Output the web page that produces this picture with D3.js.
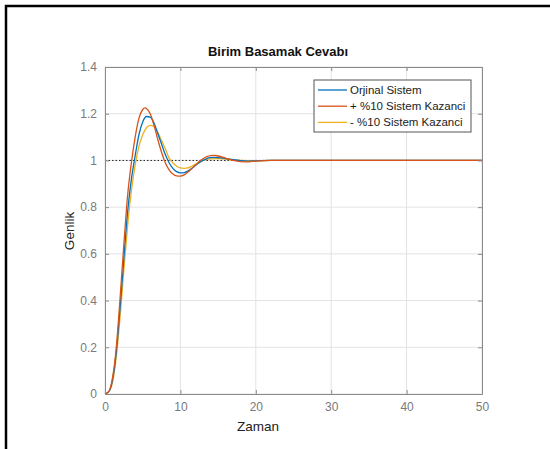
<!DOCTYPE html>
<html>
<head>
<meta charset="utf-8">
<script src="https://cdn.jsdelivr.net/npm/d3@7"></script>
<style>
  body { margin: 0; background: #fff; }
  svg { display: block; font-family: "Liberation Sans", Arial, sans-serif; }
</style>
</head>
<body>
<svg id="chart" width="550" height="449"></svg>
<script>
// Step response data (time, amplitude)
const timeOrig = [0, 0.5, 1, 1.5, 2, 2.5, 3, 3.5, 4, 4.5, 5, 5.5, 6, 6.5, 7, 7.5, 8, 8.5, 9, 9.5, 10, 10.5, 11, 11.5, 12, 12.5, 13, 13.5, 14, 14.5, 15, 16, 17, 18, 19, 20, 22, 25, 30, 40, 50];
const ampOrig  = [0, 0.01, 0.06, 0.18, 0.37, 0.58, 0.78, 0.92, 1.02, 1.11, 1.165, 1.188, 1.185, 1.16, 1.115, 1.07, 1.025, 0.99, 0.966, 0.952, 0.947, 0.948, 0.955, 0.965, 0.978, 0.99, 1.0, 1.008, 1.012, 1.013, 1.012, 1.008, 1.003, 0.999, 0.997, 0.998, 1.0, 1.0, 1.0, 1.0, 1.0];

const timePlus = [0, 0.5, 1, 1.5, 2, 2.5, 3, 3.5, 4, 4.5, 5, 5.3, 5.5, 6, 6.5, 7, 7.5, 8, 8.5, 9, 9.5, 10, 10.5, 11, 11.5, 12, 12.5, 13, 13.5, 14, 14.5, 15, 16, 17, 18, 19, 20, 22, 25, 30, 40, 50];
const ampPlus  = [0, 0.01, 0.07, 0.2, 0.41, 0.64, 0.85, 0.99, 1.1, 1.18, 1.218, 1.225, 1.222, 1.2, 1.15, 1.09, 1.035, 0.99, 0.96, 0.942, 0.934, 0.933, 0.938, 0.95, 0.965, 0.98, 0.995, 1.007, 1.016, 1.021, 1.022, 1.019, 1.01, 1.0, 0.995, 0.994, 0.997, 1.0, 1.0, 1.0, 1.0, 1.0];

const timeMinus = [0, 0.5, 1, 1.5, 2, 2.5, 3, 3.5, 4, 4.5, 5, 5.5, 6, 6.5, 7, 7.5, 8, 8.5, 9, 9.5, 10, 10.5, 11, 11.5, 12, 12.5, 13, 14, 15, 16, 17, 18, 20, 22, 25, 30, 40, 50];
const ampMinus  = [0, 0.01, 0.05, 0.16, 0.33, 0.53, 0.72, 0.87, 0.98, 1.06, 1.11, 1.14, 1.15, 1.145, 1.12, 1.085, 1.05, 1.01, 0.99, 0.975, 0.968, 0.966, 0.968, 0.975, 0.984, 0.993, 1.0, 1.007, 1.008, 1.006, 1.002, 1.0, 0.999, 1.0, 1.0, 1.0, 1.0, 1.0];

const seriesNames = ["Orjinal Sistem", "+ %10 Sistem Kazanci", "- %10 Sistem Kazanci"];
const seriesColors = ["#0072BD", "#D95319", "#EDB120"];

const xTicks = [0, 10, 20, 30, 40, 50];
const yTicks = [0, 0.2, 0.4, 0.6, 0.8, 1, 1.2, 1.4];
const refLevel = [{ t: 0, v: 1 }, { t: 50, v: 1 }];

const svg = d3.select("#chart");

// outer frame (only top and left edges visible)
svg.append("path")
  .attr("d", "M6,449 L6,6 L550,6")
  .attr("fill", "none")
  .attr("stroke", "#000")
  .attr("stroke-width", 2.5);

const x = d3.scaleLinear().domain([0, 50]).range([105, 482]);
const y = d3.scaleLinear().domain([0, 1.4]).range([394, 67]);

// grid
const grid = svg.append("g").attr("stroke", "#e3e3e3").attr("stroke-width", 1);
xTicks.forEach(t => {
  grid.append("line").attr("x1", x(t)).attr("x2", x(t)).attr("y1", y(0)).attr("y2", y(1.4));
});
yTicks.forEach(t => {
  grid.append("line").attr("x1", x(0)).attr("x2", x(50)).attr("y1", y(t)).attr("y2", y(t));
});

// curves
const line = d3.line().x(d => x(d.t)).y(d => y(d.v));
const series = [
  timeOrig.map((t, i) => ({ t, v: ampOrig[i] })),
  timePlus.map((t, i) => ({ t, v: ampPlus[i] })),
  timeMinus.map((t, i) => ({ t, v: ampMinus[i] }))
];

// reference dotted line
svg.append("path")
  .datum(refLevel)
  .attr("d", line)
  .attr("fill", "none")
  .attr("stroke", "#222")
  .attr("stroke-width", 1)
  .attr("stroke-dasharray", "1.5,2");

const curveLine = d3.line().x(d => x(d.t)).y(d => y(d.v)).curve(d3.curveMonotoneX);
[2, 0, 1].forEach(i => {
  svg.append("path")
    .datum(series[i])
    .attr("d", curveLine)
    .attr("fill", "none")
    .attr("stroke", seriesColors[i])
    .attr("stroke-width", 1.3);
});

// axes with inward ticks on all sides
const axisColor = "#8a8a8a";
const axBottom = svg.append("g").attr("transform", `translate(0,${y(0)})`)
  .call(d3.axisBottom(x).tickValues(xTicks).tickSizeInner(-4).tickSizeOuter(0).tickPadding(8));
const axTop = svg.append("g").attr("transform", `translate(0,${y(1.4)})`)
  .call(d3.axisTop(x).tickValues(xTicks).tickSizeInner(-4).tickSizeOuter(0).tickFormat(""));
const axLeft = svg.append("g").attr("transform", `translate(${x(0)},0)`)
  .call(d3.axisLeft(y).tickValues(yTicks).tickSizeInner(-4).tickSizeOuter(0).tickPadding(8).tickFormat(d3.format("~g")));
const axRight = svg.append("g").attr("transform", `translate(${x(50)},0)`)
  .call(d3.axisRight(y).tickValues(yTicks).tickSizeInner(-4).tickSizeOuter(0).tickFormat(""));

[axBottom, axTop, axLeft, axRight].forEach(g => {
  g.select(".domain").attr("stroke", axisColor);
  g.selectAll(".tick line").attr("stroke", axisColor);
  g.selectAll(".tick text")
    .attr("fill", "#7a7a7a")
    .style("font-family", "'Liberation Sans', Arial, sans-serif")
    .style("font-size", "12px");
});

// title and labels
svg.append("text")
  .attr("x", 278).attr("y", 56)
  .attr("text-anchor", "middle")
  .style("font-size", "13px")
  .style("font-weight", "bold")
  .attr("fill", "#111")
  .text("Birim Basamak Cevabı");

svg.append("text")
  .attr("x", 258).attr("y", 431)
  .attr("text-anchor", "middle")
  .style("font-size", "13.5px")
  .attr("fill", "#222")
  .text("Zaman");

svg.append("text")
  .attr("transform", "translate(74,231) rotate(-90)")
  .attr("text-anchor", "middle")
  .style("font-size", "13.5px")
  .attr("fill", "#222")
  .text("Genlik");

// legend
const legend = svg.append("g");
legend.append("rect")
  .attr("x", 314).attr("y", 80)
  .attr("width", 157).attr("height", 52)
  .attr("fill", "#fff")
  .attr("stroke", "#555")
  .attr("stroke-width", 1);

seriesNames.forEach((name, i) => {
  const ly = 90 + i * 16.2;
  legend.append("line")
    .attr("x1", 318).attr("x2", 347)
    .attr("y1", ly).attr("y2", ly)
    .attr("stroke", seriesColors[i])
    .attr("stroke-width", 1.3);
  legend.append("text")
    .attr("x", 350).attr("y", ly + 4)
    .style("font-size", "11.5px")
    .attr("fill", "#222")
    .text(name);
});
</script>
</body>
</html>
